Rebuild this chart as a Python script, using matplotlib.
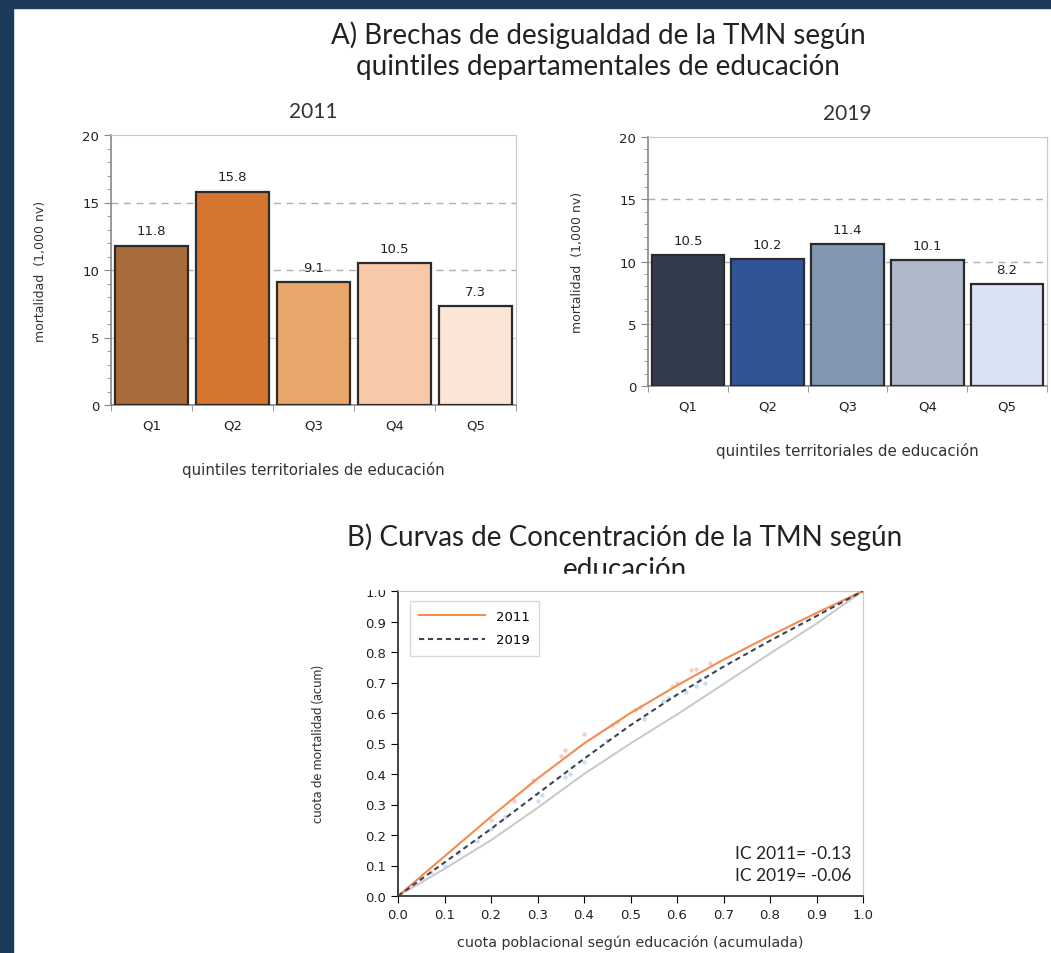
import numpy as np
import matplotlib
matplotlib.use("Agg")
import matplotlib.pyplot as plt
from matplotlib.patches import Rectangle
from matplotlib.ticker import MultipleLocator

# Data
quintiles = ["Q1", "Q2", "Q3", "Q4", "Q5"]
tmn_2011 = [11.8, 15.8, 9.1, 10.5, 7.3]
tmn_2019 = [10.5, 10.2, 11.4, 10.1, 8.2]
colors_2011 = ["#a86b3c", "#d4762e", "#e9a66a", "#f7c9a8", "#fbe5d6"]
colors_2019 = ["#323c4d", "#2f5597", "#8497b0", "#adb9ca", "#dae3f3"]

pop_share = [0.0, 0.1, 0.2, 0.3, 0.4, 0.5, 0.6, 0.7, 0.8, 0.9, 1.0]
curve_2011 = [0.0, 0.13, 0.26, 0.385, 0.50, 0.60, 0.69, 0.775, 0.853, 0.928, 1.0]
curve_2019 = [0.0, 0.11, 0.22, 0.335, 0.45, 0.56, 0.66, 0.752, 0.837, 0.918, 1.0]
equality = [0.0, 0.089, 0.183, 0.289, 0.40, 0.50, 0.595, 0.695, 0.795, 0.893, 1.0]

pts_2011_x = [0.05, 0.07, 0.20, 0.25, 0.29, 0.35, 0.36, 0.40, 0.46, 0.47, 0.51, 0.52, 0.59, 0.60, 0.63, 0.64, 0.67]
pts_2011_y = [0.06, 0.08, 0.25, 0.31, 0.38, 0.46, 0.48, 0.53, 0.56, 0.57, 0.61, 0.62, 0.69, 0.70, 0.74, 0.745, 0.765]
pts_2019_x = [0.10, 0.13, 0.17, 0.20, 0.23, 0.30, 0.31, 0.36, 0.37, 0.40, 0.45, 0.53, 0.57, 0.58, 0.62, 0.64, 0.65, 0.66]
pts_2019_y = [0.10, 0.14, 0.18, 0.22, 0.26, 0.31, 0.33, 0.39, 0.40, 0.44, 0.51, 0.58, 0.64, 0.65, 0.67, 0.69, 0.71, 0.70]

W, H = 1051, 954
NAVY = "#1b3a5c"
LABEL_FONT = ["Lato", "DejaVu Sans"]


def rect(l, t, r, b):
    return [l / W, 1 - b / H, (r - l) / W, (b - t) / H]


def bar_panel(ax, values, colors, title):
    x = np.arange(len(values))
    ax.bar(x, values, width=0.91, color=colors, edgecolor="#2b2b2b", linewidth=1.6, zorder=3)
    for xi, v in zip(x, values):
        ax.annotate(f"{v:.1f}", (xi, v), xytext=(0, 6), textcoords="offset points",
                    ha="center", va="bottom", fontsize=9.5, color="#222222", zorder=4)
    ax.set_xlim(-0.5, 4.5)
    ax.set_ylim(0, 20)
    ax.yaxis.set_major_locator(MultipleLocator(5))
    ax.yaxis.set_minor_locator(MultipleLocator(1))
    for yv in [10, 15]:
        ax.axhline(yv, color="#b0b0b0", linestyle=(0, (5, 4)), linewidth=1.0, zorder=1)
    ax.axhline(5, color="#d0d0d0", linewidth=0.8, zorder=1)
    ax.set_xticks(np.arange(-0.5, 5, 1), minor=True)
    ax.set_xticks(x)
    ax.set_xticklabels(quintiles, fontsize=9.5, color="#222222")
    ax.tick_params(axis="x", which="major", length=0, pad=10)
    ax.tick_params(axis="x", which="minor", length=4, color="#888888")
    ax.tick_params(axis="y", which="major", length=5, labelsize=9.5, labelcolor="#222222", color="#888888")
    ax.tick_params(axis="y", which="minor", length=3, color="#888888")
    for s in ["top", "right"]:
        ax.spines[s].set_color("#c8c8c8")
    for s in ["left", "bottom"]:
        ax.spines[s].set_color("#888888")
        ax.spines[s].set_linewidth(1.2)
    ax.set_ylabel("mortalidad  (1,000 nv)", fontsize=9, color="#333333", labelpad=25)
    ax.set_xlabel("quintiles territoriales de educación", fontsize=10.8, color="#333333",
                  labelpad=21)
    ax.set_title(title, fontsize=15, family=LABEL_FONT, color="#333333", pad=13)


def main():
    fig = plt.figure(figsize=(W / 100, H / 100), dpi=100)
    fig.patch.set_facecolor("white")

    # frame of the slide
    fig.add_artist(Rectangle((0, 1 - 9 / H), 1, 9 / H, transform=fig.transFigure,
                             color=NAVY, zorder=10))
    fig.add_artist(Rectangle((0, 0), 13 / W, 1, transform=fig.transFigure,
                             color=NAVY, zorder=10))

    fig.text(598 / W, 1 - 35 / H, "A) Brechas de desigualdad de la TMN según",
             ha="center", va="center", fontsize=20, family=LABEL_FONT, color="#222222")
    fig.text(598 / W, 1 - 67 / H, "quintiles departamentales de educación",
             ha="center", va="center", fontsize=20, family=LABEL_FONT, color="#222222")

    ax1 = fig.add_axes(rect(111, 136, 516, 406))
    bar_panel(ax1, tmn_2011, colors_2011, "2011")
    ax2 = fig.add_axes(rect(648, 138, 1047, 387))
    bar_panel(ax2, tmn_2019, colors_2019, "2019")

    # Part B
    fig.text(625 / W, 1 - 537 / H, "B) Curvas de Concentración de la TMN según",
             ha="center", va="center", fontsize=20, family=LABEL_FONT, color="#222222", zorder=1)
    fig.text(625 / W, 1 - 570 / H, "educación",
             ha="center", va="center", fontsize=20, family=LABEL_FONT, color="#222222", zorder=1)
    fig.add_artist(Rectangle((300 / W, 1 - 590 / H), 600 / W, 15 / H, transform=fig.transFigure,
                             color="white", zorder=2))

    ax3 = fig.add_axes(rect(398, 592, 863, 897))
    ax3.plot(pop_share, equality, color="#c8c8c8", linewidth=1.4, zorder=2)
    ax3.scatter(pts_2011_x, pts_2011_y, s=10, color="#f4b6b6", alpha=0.7, linewidths=0, zorder=2)
    ax3.scatter(pts_2019_x, pts_2019_y, s=10, color="#b9cff0", alpha=0.7, linewidths=0, zorder=2)
    ax3.plot(pop_share, curve_2011, color="#f28c4f", linewidth=1.5, label="2011", zorder=3)
    ax3.plot(pop_share, curve_2019, color="#3a4556", linewidth=1.5, linestyle=(0, (2.5, 1.8)),
             label="2019", zorder=3)
    ax3.set_xlim(0, 1)
    ax3.set_ylim(0, 1)
    ax3.xaxis.set_major_locator(MultipleLocator(0.1))
    ax3.yaxis.set_major_locator(MultipleLocator(0.1))
    ax3.set_xticklabels([f"{v:.1f}" for v in ax3.get_xticks()])
    ax3.set_yticklabels([f"{v:.1f}" for v in ax3.get_yticks()])
    ax3.tick_params(labelsize=9.5, labelcolor="#222222", length=5, direction="out")
    for s in ["top", "right"]:
        ax3.spines[s].set_color("#c8c8c8")
    for s in ["left", "bottom"]:
        ax3.spines[s].set_color("#222222")
        ax3.spines[s].set_linewidth(1.2)
    leg = ax3.legend(loc="upper left", fontsize=9.5, frameon=True, fancybox=False,
                     handlelength=5, borderpad=0.7, labelspacing=0.8,
                     bbox_to_anchor=(0.012, 0.99))
    leg.get_frame().set_edgecolor("#d0d0d0")
    leg.get_frame().set_linewidth(1.0)
    ax3.text(0.975, 0.14, "IC 2011= -0.13", transform=ax3.transAxes, ha="right", va="center",
             fontsize=12.5, family=LABEL_FONT, color="#222222")
    ax3.text(0.975, 0.068, "IC 2019= -0.06", transform=ax3.transAxes, ha="right", va="center",
             fontsize=12.5, family=LABEL_FONT, color="#222222")
    ax3.set_ylabel("cuota de mortalidad (acum)", fontsize=9.5, family=LABEL_FONT,
                   color="#333333", labelpad=30)
    ax3.set_xlabel("cuota poblacional según educación (acumulada)", fontsize=10.3,
                   color="#333333", labelpad=10)

    plt.savefig("out.png", dpi=100)


if __name__ == "__main__":
    main()
